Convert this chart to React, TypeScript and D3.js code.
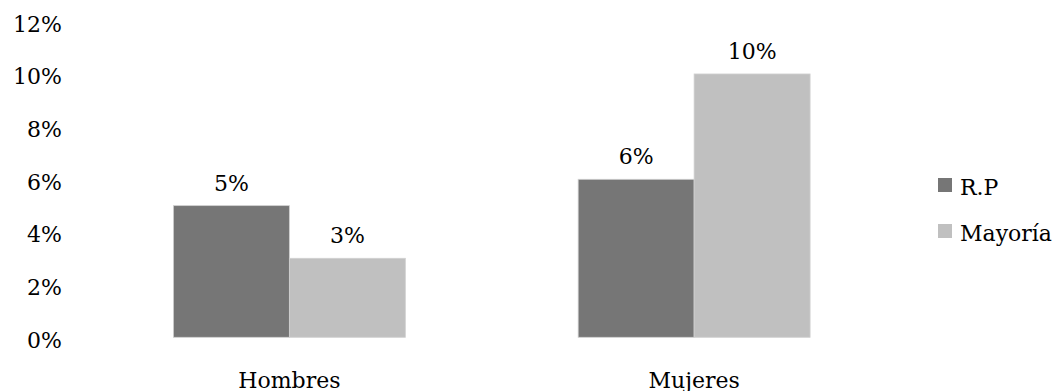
import React from "react";
import * as d3 from "d3";

const categories = ["Hombres", "Mujeres"];
const seriesNames = ["R.P", "Mayoría"];
const rpValues = [5, 6];
const mayoriaValues = [3, 10];
const yTicks = [0, 2, 4, 6, 8, 10, 12];
const colors = ["#767676", "#c0c0c0"];

const W = 1052;
const H = 391;
const FONT = "'DejaVu Serif', serif";
const FS = 22;

export default function App() {
  const y = d3.scaleLinear().domain([0, 12]).range([337.3, 21.3]);
  const x0 = d3
    .scaleBand<string>()
    .domain(categories)
    .range([87, 896.5])
    .paddingInner(0.427)
    .paddingOuter(0.2135);
  const x1 = d3
    .scaleBand<string>()
    .domain(seriesNames)
    .range([0, x0.bandwidth()]);

  const series = [rpValues, mayoriaValues];

  return (
    <svg
      width={W}
      height={H}
      style={{ position: "absolute", left: 0, top: 0, background: "#fff" }}
      fontFamily={FONT}
      fontSize={FS}
    >
      {/* y axis labels */}
      {yTicks.map((t) => (
        <text key={t} x={62} y={y(t) + 10.5} textAnchor="end" fill="#000">
          {t}%
        </text>
      ))}

      {/* bars and value labels */}
      {categories.map((c, ci) => (
        <g key={c} transform={`translate(${x0(c)},0)`}>
          {seriesNames.map((s, si) => {
            const v = series[si][ci];
            const bx = x1(s)!;
            return (
              <g key={s}>
                <rect
                  x={bx}
                  y={y(v)}
                  width={x1.bandwidth()}
                  height={y(0) - y(v)}
                  fill={colors[si]}
                  stroke="#d0d0d0"
                  strokeWidth={0.8}
                />
                <text
                  x={bx + x1.bandwidth() / 2}
                  y={y(v) - 15}
                  textAnchor="middle"
                  fill="#000"
                >
                  {v}%
                </text>
              </g>
            );
          })}
          <text
            x={x0.bandwidth() / 2}
            y={387.5}
            textAnchor="middle"
            fill="#000"
          >
            {c}
          </text>
        </g>
      ))}

      {/* legend */}
      {seriesNames.map((s, i) => (
        <g key={s} transform={`translate(938,${178 + i * 46})`}>
          <rect width={14} height={14} fill={colors[i]} />
          <text x={22} y={17} fill="#000">
            {s}
          </text>
        </g>
      ))}
    </svg>
  );
}
